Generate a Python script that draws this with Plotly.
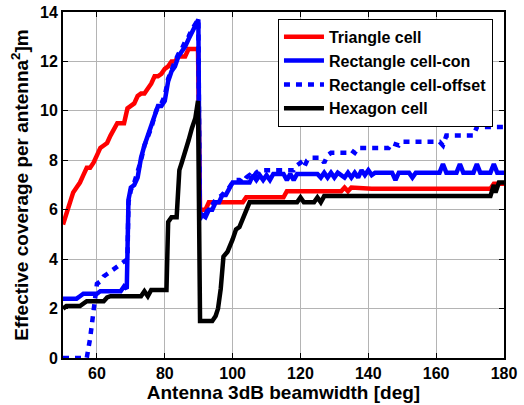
import plotly.graph_objects as go

# ---- data ----
tri_x = [50, 51, 52, 53, 54, 55, 56, 57, 58, 59, 60, 61, 62, 63, 64, 65, 66, 68, 69, 70, 71, 72, 73, 74,
         75, 76, 77, 78, 79, 80, 81, 82, 83, 84, 86, 87, 89.8, 90.4, 92, 93, 103, 104, 115, 116, 132, 133,
         134, 135, 141, 176, 177, 180]
tri_y = [5.4, 5.8, 6.3, 6.7, 6.9, 7.1, 7.4, 7.7, 7.7, 7.9, 8.2, 8.5, 8.6, 8.7, 9.0, 9.3, 9.5, 9.5, 10.1, 10.2,
         10.3, 10.6, 10.7, 10.7, 10.9, 11.1, 11.4, 11.4, 11.5, 11.7, 11.8, 12.0, 12.0, 12.2, 12.2, 12.5, 12.5,
         6.0, 6.0, 6.3, 6.3, 6.5, 6.5, 6.75, 6.75, 6.9, 6.75, 6.9, 6.85, 6.85, 7.05, 7.05]

con_x = [50, 54, 55, 56, 60, 61, 67, 68, 68.8, 69.3, 70, 71, 72, 73, 74, 75, 76, 77, 78, 79, 80, 81, 82,
         83, 84, 85, 86, 87, 88, 89, 89.9, 90.3, 91, 92, 93, 94, 95, 96, 97, 98, 99, 100, 105, 106, 107,
         108, 109, 110, 111, 112, 115, 116, 117, 118, 119, 125, 126, 127, 128, 129, 130, 131, 133, 134,
         135, 136, 137, 138, 139, 140, 141, 142, 147, 148, 149, 152, 153, 154, 161, 162, 163, 166, 167,
         168, 171, 172, 173, 176, 177, 178, 180]
con_y = [2.4, 2.4, 2.5, 2.6, 2.6, 2.7, 2.7, 2.9, 2.8, 6.4, 6.9, 7.0, 7.3, 8.1, 8.6, 9.0, 9.3, 9.7, 10.2,
         10.2, 10.4, 11.2, 11.6, 11.8, 12.2, 12.4, 12.6, 12.9, 13.2, 13.4, 13.7, 5.6, 5.8, 5.7, 6.0, 6.0,
         6.3, 6.3, 6.6, 6.6, 6.9, 7.1, 7.1, 7.4, 7.2, 7.4, 7.2, 7.4, 7.2, 7.45, 7.45, 7.2, 7.45, 7.2, 7.45,
         7.45, 7.3, 7.5, 7.3, 7.5, 7.3, 7.5, 7.3, 7.5, 7.3, 7.5, 7.3, 7.6, 7.4, 7.6, 7.4, 7.5, 7.5, 7.2,
         7.5, 7.5, 7.3, 7.5, 7.5, 7.85, 7.5, 7.5, 7.85, 7.5, 7.5, 7.85, 7.5, 7.5, 7.85, 7.5, 7.5]

off_x = [50, 57, 58, 58.7, 59.3, 59.8, 60, 61, 62, 63, 64, 65, 66, 67, 68, 69, 69.3, 70, 71, 72, 73, 74,
         75, 76, 77, 78, 79, 80, 81, 82, 83, 84, 85, 86, 87, 88, 89, 89.9, 90.3, 91, 92, 93, 94, 95, 96,
         97, 98, 99, 100, 101, 102, 103, 104, 105, 106, 107, 108, 118, 119, 120, 121, 122, 123, 126, 127,
         128, 129, 134, 135, 136, 137, 146, 147, 149, 150, 161, 162, 163, 171, 172, 180]
off_y = [0, 0, 0.8, 1.5, 2.2, 2.8, 3.0, 3.1, 3.3, 3.4, 3.5, 3.6, 3.7, 3.8, 3.9, 4.0, 6.3, 6.8, 7.1, 7.5,
         8.0, 8.6, 8.9, 9.3, 9.8, 10.2, 10.3, 10.6, 11.3, 11.7, 12.0, 12.3, 12.5, 12.8, 13.0, 13.3, 13.5,
         13.7, 5.7, 5.9, 5.8, 6.1, 6.2, 6.4, 6.5, 6.6, 6.8, 6.9, 7.1, 7.2, 7.2, 7.1, 7.3, 7.4, 7.3, 7.5,
         7.6, 7.6, 7.8, 7.9, 7.7, 8.0, 8.1, 8.1, 7.9, 8.2, 8.3, 8.3, 8.4, 8.3, 8.5, 8.5, 8.7, 8.6, 8.75,
         8.75, 8.6, 9.0, 9.0, 9.35, 9.35]

hex_x = [50, 51, 55, 56, 57, 62, 63, 64, 73, 74, 75, 76, 80.5, 81, 82, 83.5, 84.3, 85, 86, 87, 88, 89,
         89.8, 90.4, 94, 95, 95.7, 96.5, 97.3, 98.5, 100, 101, 102, 103, 104, 105, 119, 120, 121, 124,
         125, 126, 127, 176, 177, 177.5, 178.5, 180]
hex_y = [2.0, 2.1, 2.1, 2.2, 2.3, 2.3, 2.45, 2.5, 2.5, 2.7, 2.5, 2.75, 2.75, 5.5, 5.7, 5.7, 7.6, 7.9, 8.3,
         8.8, 9.3, 9.7, 10.4, 1.5, 1.5, 1.7, 2.0, 2.8, 4.1, 4.3, 4.8, 5.2, 5.3, 5.6, 5.9, 6.3, 6.3, 6.5,
         6.3, 6.3, 6.5, 6.3, 6.55, 6.55, 7.0, 6.7, 7.1, 7.1]

series = [
    ("Triangle cell", tri_x, tri_y, "#ff0000", "solid"),
    ("Rectangle cell-con", con_x, con_y, "#0000ff", "solid"),
    ("Rectangle cell-offset", off_x, off_y, "#0000ff", "6px,6px"),
    ("Hexagon cell", hex_x, hex_y, "#000000", "solid"),
]

fig = go.Figure()
for name, xs, ys, col, dash in series:
    fig.add_trace(go.Scatter(x=xs, y=ys, mode="lines", name=name,
                             line=dict(color=col, width=4.5, dash=dash)))

axis_common = dict(
    showline=True, linecolor="black", linewidth=2, mirror="ticks",
    ticks="inside", ticklen=5, tickcolor="black", tickwidth=1,
    showgrid=True, gridcolor="#b4b4b4", gridwidth=1, zeroline=False,
)

fig.update_layout(
    width=524, height=405,
    margin=dict(l=63, r=20, t=12, b=47),
    paper_bgcolor="white", plot_bgcolor="white",
    font=dict(family="Liberation Sans, Arial, sans-serif", size=16, color="black", weight="bold"),
    showlegend=True,
    legend=dict(x=0.975, y=0.98, xanchor="right", yanchor="top",
                bgcolor="white", bordercolor="black", borderwidth=1,
                font=dict(size=16), tracegroupgap=0, itemwidth=40),
    xaxis=dict(range=[50, 180], tick0=0, dtick=20, automargin=False,
               title=dict(text="Antenna 3dB beamwidth [deg]", standoff=2), **axis_common),
    yaxis=dict(range=[0, 14], tick0=0, dtick=2, automargin=False,
               title=dict(text="Effective coverage per antenna<sup>2</sup>]m", standoff=6), **axis_common),
)

fig.write_html("out.html", config={"displayModeBar": False},
               post_script="document.body.style.margin='0';document.body.style.overflow='hidden';")
